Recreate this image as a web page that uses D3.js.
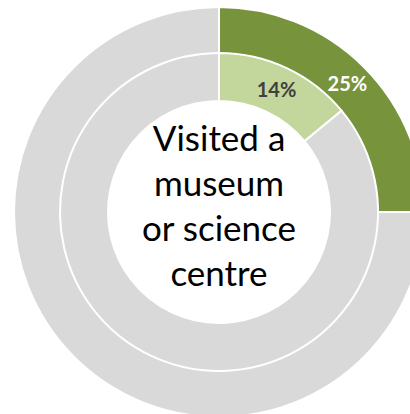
<!DOCTYPE html>
<html>
<head>
<meta charset="utf-8">
<script src="https://cdn.jsdelivr.net/npm/d3@7"></script>
<style>
  html, body { margin: 0; padding: 0; background: #fff; }
  svg { display: block; }
</style>
</head>
<body>
<svg id="chart" width="410" height="414"></svg>
<script>
// Share answering "yes" vs the remainder, for the two rings
const categories = ["Visited", "Did not visit"];
const outerValues = [25, 75];
const innerValues = [14, 86];
const outerLabels = ["25%", ""];
const innerLabels = ["14%", ""];
const centreLines = ["Visited a", "museum", "or science", "centre"];

const width = 410, height = 414;
const cx = 219, cy = 212;

const svg = d3.select("#chart");
const g = svg.append("g").attr("transform", `translate(${cx},${cy})`);

const pie = d3.pie().sort(null).value(d => d);

const rings = [
  { values: outerValues, labels: outerLabels, r0: 158, r1: 205,
    colors: ["#77933C", "#D9D9D9"], labelColor: "#FFFFFF" },
  { values: innerValues, labels: innerLabels, r0: 111, r1: 159,
    colors: ["#C3D69B", "#D9D9D9"], labelColor: "#404040" }
];

rings.forEach(ring => {
  const arc = d3.arc().innerRadius(ring.r0).outerRadius(ring.r1);
  const arcs = pie(ring.values);
  const rg = g.append("g");
  rg.selectAll("path")
    .data(arcs)
    .join("path")
    .attr("d", arc)
    .attr("fill", (d, i) => ring.colors[i])
    .attr("stroke", "#FFFFFF")
    .attr("stroke-width", 2);
  rg.selectAll("text")
    .data(arcs)
    .join("text")
    .attr("transform", d => `translate(${arc.centroid(d)})`)
    .attr("text-anchor", "middle")
    .attr("dy", "0.36em")
    .attr("font-family", "Lato, 'Open Sans', sans-serif")
    .attr("font-weight", "bold")
    .attr("font-size", 20)
    .attr("fill", ring.labelColor)
    .text((d, i) => ring.labels[i]);
});

// Centre caption
const lineH = 45;
g.append("text")
  .attr("text-anchor", "middle")
  .attr("font-family", "Lato, 'Open Sans', sans-serif")
  .attr("font-size", 35)
  .attr("fill", "#000")
  .selectAll("tspan")
  .data(centreLines)
  .join("tspan")
  .attr("x", 0)
  .attr("y", (d, i) => 151 - cy + i * lineH)
  .text(d => d);
</script>
</body>
</html>
